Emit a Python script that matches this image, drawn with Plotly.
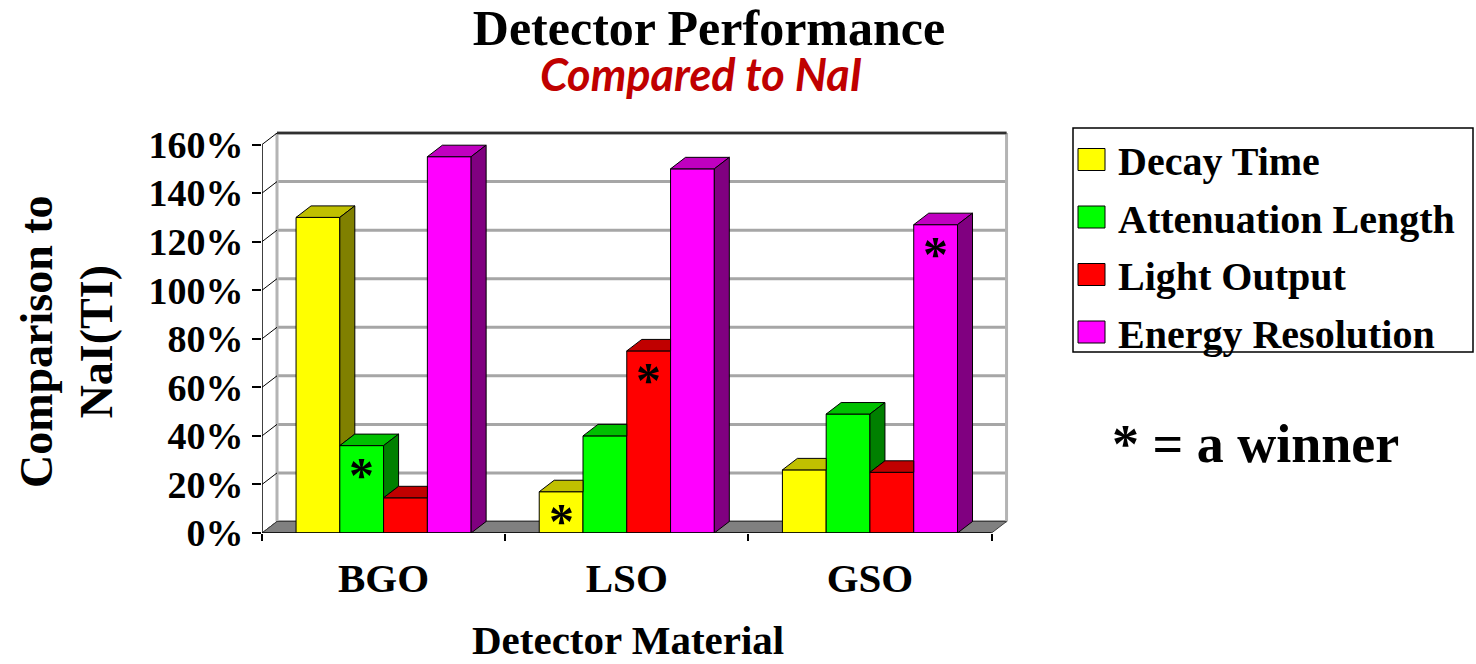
import plotly.graph_objects as go

# ---- data -----------------------------------------------------------------
categories = ["BGO", "LSO", "GSO"]
series_names = ["Decay Time", "Attenuation Length", "Light Output", "Energy Resolution"]
decay_time = [130, 17, 26]
attenuation_length = [36, 40, 49]
light_output = [14.5, 75, 25]
energy_resolution = [155, 150, 127]
y_ticks = [0, 20, 40, 60, 80, 100, 120, 140, 160]
winners = [
    ("Attenuation Length", "BGO"),
    ("Decay Time", "LSO"),
    ("Light Output", "LSO"),
    ("Energy Resolution", "GSO"),
]

# ---- styling --------------------------------------------------------------
front_colors = ["#FFFF00", "#00FF00", "#FF0000", "#FF00FF"]
top_colors = ["#C0C000", "#00C000", "#C00000", "#C000C0"]
side_colors = ["#808000", "#008000", "#800000", "#800080"]
SERIF = "Liberation Serif, Times New Roman, serif"

W, H = 1476, 664
M_L, M_R, M_T, M_B = 262, 465, 130, 131
X_RANGE = [-0.5, 2.58]
Y_RANGE = [0, 166]
plot_w = W - M_L - M_R
plot_h = H - M_T - M_B
px_per_x = plot_w / (X_RANGE[1] - X_RANGE[0])
px_per_y = plot_h / (Y_RANGE[1] - Y_RANGE[0])

# depth of the pseudo-3D box, converted from pixels to axis units
DX = 15 / px_per_x
DY = 11.5 / px_per_y
BW = 0.18  # width of a single column in category units


def paper_x(px):
    return (px - M_L) / plot_w


def paper_y(py):
    return (H - M_B - py) / plot_h


series = [decay_time, attenuation_length, light_output, energy_resolution]
xs = list(range(len(categories)))

fig = go.Figure()

# front faces of the columns
for i, (name, vals) in enumerate(zip(series_names, series)):
    fig.add_trace(go.Bar(
        x=xs, y=vals, name=name, width=BW, offset=(i - 2) * BW,
        marker=dict(color=front_colors[i], line=dict(color="black", width=1)),
        showlegend=False, hovertemplate=name + ": %{y}%<extra></extra>",
    ))


def add_poly(px_list, py_list, poly):
    for (a, b) in poly + [poly[0]]:
        px_list.append(a)
        py_list.append(b)
    px_list.append(None)
    py_list.append(None)


# top and right-hand faces, trimmed where the neighbouring column hides them
for i in range(len(series)):
    tx, ty, sx, sy = [], [], [], []
    for c in xs:
        v = series[i][c]
        xl = c + (i - 2) * BW
        xr = xl + BW
        nxt = series[i + 1][c] if i + 1 < len(series) else None
        if nxt is not None and nxt > v:
            top = [(xl, v), (xr, v), (xr, v + DY), (xl + DX, v + DY)]
        else:
            top = [(xl, v), (xr, v), (xr + DX, v + DY), (xl + DX, v + DY)]
        add_poly(tx, ty, top)
        base = 0 if nxt is None else nxt
        if base < v:
            side = [(xr, base), (xr, v), (xr + DX, v + DY), (xr + DX, base + DY)]
            add_poly(sx, sy, side)
    fig.add_trace(go.Scatter(
        x=tx, y=ty, mode="lines", fill="toself", fillcolor=top_colors[i],
        line=dict(color="black", width=1), hoverinfo="skip", showlegend=False))
    if sx:
        fig.add_trace(go.Scatter(
            x=sx, y=sy, mode="lines", fill="toself", fillcolor=side_colors[i],
            line=dict(color="black", width=1), hoverinfo="skip", showlegend=False))

shapes = []
x_lo = xs[0] - 0.5
x_hi = xs[-1] + 0.5
y_top = y_ticks[-1]

# back wall gridlines
for t in y_ticks:
    shapes.append(dict(type="line", layer="below", x0=x_lo + DX, x1=x_hi + DX,
                       y0=t + DY, y1=t + DY, line=dict(color="#A6A6A6", width=3)))
# back wall edges
shapes.append(dict(type="line", layer="below", x0=x_lo + DX, x1=x_lo + DX,
                   y0=DY, y1=y_top + DY, line=dict(color="#B4B4B4", width=3)))
shapes.append(dict(type="line", layer="below", x0=x_hi + DX, x1=x_hi + DX,
                   y0=DY, y1=y_top + DY, line=dict(color="#B4B4B4", width=3)))
shapes.append(dict(type="line", layer="below", x0=x_lo + DX, x1=x_hi + DX,
                   y0=y_top + DY, y1=y_top + DY, line=dict(color="#303030", width=2.5)))
# side wall: slanted lines from the value axis to the back wall
for t in y_ticks:
    shapes.append(dict(type="line", layer="below", x0=x_lo, x1=x_lo + DX,
                       y0=t, y1=t + DY, line=dict(color="black", width=1)))
# floor
shapes.append(dict(type="path", layer="below",
                   path=f"M{x_lo},0 L{x_hi},0 L{x_hi + DX},{DY} L{x_lo + DX},{DY} Z",
                   fillcolor="#808080", line=dict(color="#404040", width=1)))
# front axis lines
shapes.append(dict(type="line", layer="above", x0=x_lo, x1=x_lo, y0=0, y1=y_top,
                   line=dict(color="black", width=1.5)))
shapes.append(dict(type="line", layer="above", x0=x_lo, x1=x_hi, y0=0, y1=0,
                   line=dict(color="black", width=1.5)))

# legend box and swatches
LEG_L, LEG_R, LEG_T, LEG_B = 1073, 1473, 128, 352
shapes.append(dict(type="rect", xref="paper", yref="paper",
                   x0=paper_x(LEG_L), x1=paper_x(LEG_R),
                   y0=paper_y(LEG_B), y1=paper_y(LEG_T),
                   line=dict(color="black", width=1.5), fillcolor="white"))
row_centers = [159.5, 217, 274.5, 332]
annotations = []
for i, name in enumerate(series_names):
    cy = row_centers[i]
    shapes.append(dict(type="rect", xref="paper", yref="paper",
                       x0=paper_x(1078), x1=paper_x(1105),
                       y0=paper_y(cy + 11), y1=paper_y(cy - 11),
                       fillcolor=front_colors[i], line=dict(color="black", width=1)))
    annotations.append(dict(xref="paper", yref="paper", x=paper_x(1116), y=paper_y(cy + 2),
                            xanchor="left", yanchor="middle", text=name, showarrow=False,
                            font=dict(family=SERIF, size=40, color="black", weight="bold")))

# winner markers
for sname, cat in winners:
    i = series_names.index(sname)
    c = categories.index(cat)
    annotations.append(dict(x=c + (i - 1.5) * BW, y=series[i][c], xref="x", yref="y",
                            text="*", showarrow=False, yanchor="middle", yshift=-29,
                            font=dict(family=SERIF, size=50, color="black", weight="bold")))

# subtitle, axis titles, note
annotations.append(dict(xref="paper", yref="paper", x=paper_x(701), y=paper_y(74),
                        text="Compared to NaI", showarrow=False, xanchor="center", yanchor="middle",
                        font=dict(family="Lato, Open Sans, sans-serif", size=45, color="#C00000",
                                  weight="bold", style="italic")))
annotations.append(dict(xref="paper", yref="paper", x=paper_x(66), y=paper_y(342),
                        text="Comparison to<br>NaI(TI)", showarrow=False, textangle=-90,
                        xanchor="center", yanchor="middle",
                        font=dict(family=SERIF, size=46, color="black", weight="bold")))
annotations.append(dict(xref="paper", yref="paper", x=paper_x(628), y=paper_y(640),
                        text="Detector Material", showarrow=False, xanchor="center", yanchor="middle",
                        font=dict(family=SERIF, size=41, color="black", weight="bold")))
annotations.append(dict(xref="paper", yref="paper", x=paper_x(1255), y=paper_y(444),
                        text="* = a winner", showarrow=False, xanchor="center", yanchor="middle",
                        font=dict(family=SERIF, size=54, color="black", weight="bold")))

fig.update_layout(
    width=W, height=H,
    margin=dict(l=M_L, r=M_R, t=M_T, b=M_B),
    paper_bgcolor="white", plot_bgcolor="white",
    barmode="overlay",
    title=dict(text="Detector Performance", x=709 / W, xanchor="center",
               y=1 - 27 / H, yanchor="middle", yref="container",
               font=dict(family=SERIF, size=50, color="black", weight="bold")),
    xaxis=dict(range=X_RANGE, tickmode="array", tickvals=xs, ticktext=categories,
               ticks="", showgrid=False, zeroline=False, showline=False,
               ticklabelstandoff=17,
               tickfont=dict(family=SERIF, size=41, color="black", weight="bold"),
               minor=dict(tickmode="array", tickvals=[c - 0.5 for c in xs] + [xs[-1] + 0.5],
                          ticks="outside", ticklen=7, tickcolor="black", tickwidth=1.5,
                          showgrid=False)),
    yaxis=dict(range=Y_RANGE, tickmode="array", tickvals=y_ticks,
               ticktext=[f"{t}%" for t in y_ticks], ticks="outside", ticklen=9,
               tickcolor="black", tickwidth=1.5, showgrid=False, zeroline=False,
               showline=False, ticklabelstandoff=1,
               tickfont=dict(family=SERIF, size=38, color="black", weight="bold")),
    shapes=shapes,
    annotations=annotations,
    showlegend=False,
)

fig.write_html("out.html")
